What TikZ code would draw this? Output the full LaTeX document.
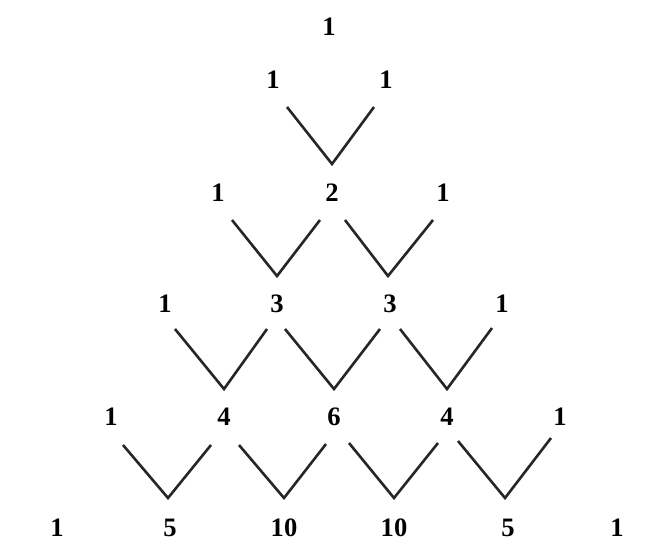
\documentclass[tikz,border=0pt]{standalone}
\usepackage{fontspec}
\setmainfont{Liberation Serif}
\usetikzlibrary{calc}

\begin{document}
\begin{tikzpicture}[
  x=0.5pt, y=-0.5pt,
  num/.style={inner sep=0pt, font=\fontsize{13.3}{16}\selectfont\bfseries},
  vee/.style={draw=black!85, line width=1.3pt},
]
\useasboundingbox (0,0) rectangle (648,558);

% ── Rows of the triangle ────────────────────────────────────────────────
\node[num] (n00) at (329,27) {1};

\node[num] (n10) at (273,80) {1};
\node[num] (n11) at (386,80) {1};

\node[num] (n20) at (218,193) {1};
\node[num] (n21) at (332,193) {2};
\node[num] (n22) at (443,193) {1};

\node[num] (n30) at (165,304) {1};
\node[num] (n31) at (277,304) {3};
\node[num] (n32) at (390,304) {3};
\node[num] (n33) at (502,304) {1};

\node[num] (n40) at (111,417) {1};
\node[num] (n41) at (224,417) {4};
\node[num] (n42) at (334,417) {6};
\node[num] (n43) at (447,417) {4};
\node[num] (n44) at (560,417) {1};

\node[num] (n50) at (57,528)  {1};
\node[num] (n51) at (170,528) {5};
\node[num] (n52) at (284,528) {10};
\node[num] (n53) at (394,528) {10};
\node[num] (n54) at (508,528) {5};
\node[num] (n55) at (617,528) {1};

% ── V marks: two above, one below ───────────────────────────────────────
\draw[vee] ($(n10)+(14,27)$) -- ($(n21)+(0,-29)$) -- ($(n11)+(-12,27)$);

\draw[vee] ($(n20)+(14,27)$) -- ($(n31)+(0,-28)$) -- ($(n21)+(-12,27)$);
\draw[vee] ($(n21)+(13,27)$) -- ($(n32)+(-2,-28)$) -- ($(n22)+(-10,27)$);

\draw[vee] ($(n30)+(10,25)$) -- ($(n41)+(0,-28)$) -- ($(n31)+(-10,25)$);
\draw[vee] ($(n31)+(8,25)$)  -- ($(n42)+(0,-28)$) -- ($(n32)+(-10,25)$);
\draw[vee] ($(n32)+(10,25)$) -- ($(n43)+(0,-28)$) -- ($(n33)+(-10,24)$);

\draw[vee] ($(n40)+(12,28)$) -- ($(n51)+(-2,-30)$) -- ($(n41)+(-13,28)$);
\draw[vee] ($(n41)+(15,28)$) -- ($(n52)+(0,-30)$)  -- ($(n42)+(-8,27)$);
\draw[vee] ($(n42)+(15,26)$) -- ($(n53)+(0,-30)$)  -- ($(n43)+(-9,26)$);
\draw[vee] ($(n43)+(11,24)$) -- ($(n54)+(-3,-30)$) -- ($(n44)+(-9,21)$);

\end{tikzpicture}
\end{document}
